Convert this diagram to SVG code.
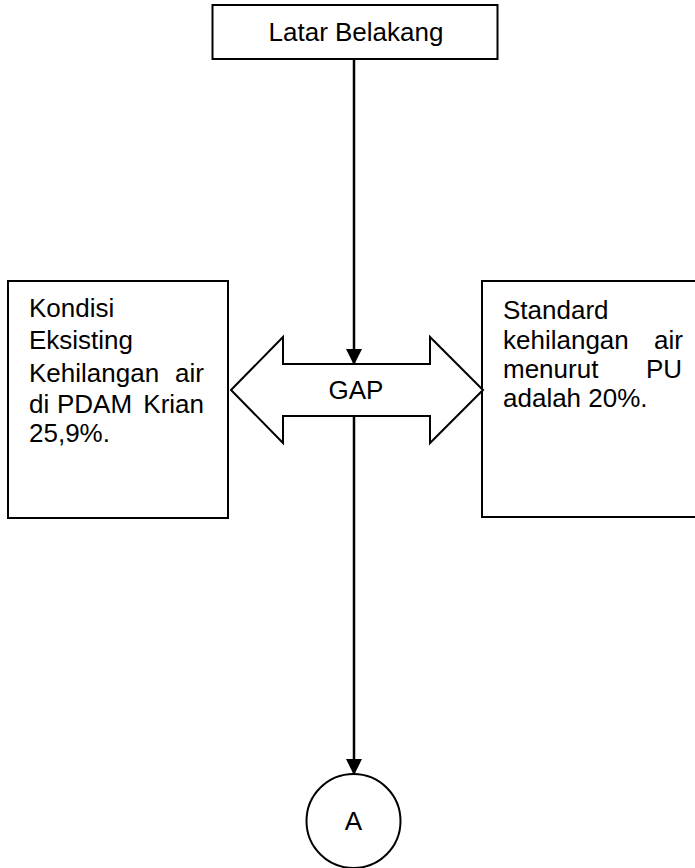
<svg xmlns="http://www.w3.org/2000/svg" width="695" height="868" viewBox="0 0 695 868">
<style>
.box{fill:#fff;stroke:#000;stroke-width:2}
.t{font-family:"Liberation Sans",Arial,sans-serif;font-size:26px;fill:#000}
.c{text-anchor:middle}
.e{text-anchor:end}
.ln{stroke:#000;stroke-width:2.5;fill:none}
</style>
<defs>
<marker id="ah" markerWidth="16" markerHeight="16" refX="14" refY="7.5" orient="auto" markerUnits="userSpaceOnUse" viewBox="0 0 15 15">
<path d="M0,0 L15,7.5 L0,15 Z" fill="#000"/>
</marker>
</defs>
<rect width="695" height="868" fill="#fff"/>
<g id="connectors">
<line class="ln" x1="354" y1="59" x2="354" y2="364" marker-end="url(#ah)"/>
<line class="ln" x1="354" y1="415" x2="354" y2="774" marker-end="url(#ah)"/>
</g>
<g id="latar">
<rect class="box" x="212.5" y="5" width="285" height="54"/>
<text class="t c" x="356" y="41">Latar Belakang</text>
</g>
<g id="kondisi">
<rect class="box" x="8" y="281" width="220" height="237"/>
<text class="t" x="29" y="317">Kondisi</text>
<text class="t" x="29" y="349">Eksisting</text>
<text class="t" x="29" y="381.5">Kehilangan</text>
<text class="t e" x="204" y="381.5">air</text>
<text class="t" x="29" y="413">di</text>
<text class="t" x="57" y="413">PDAM</text>
<text class="t e" x="204" y="413">Krian</text>
<text class="t" x="29" y="441.5">25,9%.</text>
</g>
<g id="standard">
<rect class="box" x="482" y="281" width="220" height="236"/>
<text class="t" x="503" y="318.5">Standard</text>
<text class="t" x="503" y="349">kehilangan</text>
<text class="t e" x="683" y="349">air</text>
<text class="t" x="503" y="378">menurut</text>
<text class="t e" x="682" y="378">PU</text>
<text class="t" x="503" y="406.5">adalah 20%.</text>
</g>
<g id="gap">
<path class="box" d="M231,390 L283,337 L283,364 L430,364 L430,337 L483,390 L430,443 L430,416 L283,416 L283,443 Z"/>
<text class="t c" x="356" y="399">GAP</text>
</g>
<g id="a">
<circle class="box" cx="353.5" cy="821" r="47"/>
<text class="t c" x="353.5" y="830">A</text>
</g>
</svg>
